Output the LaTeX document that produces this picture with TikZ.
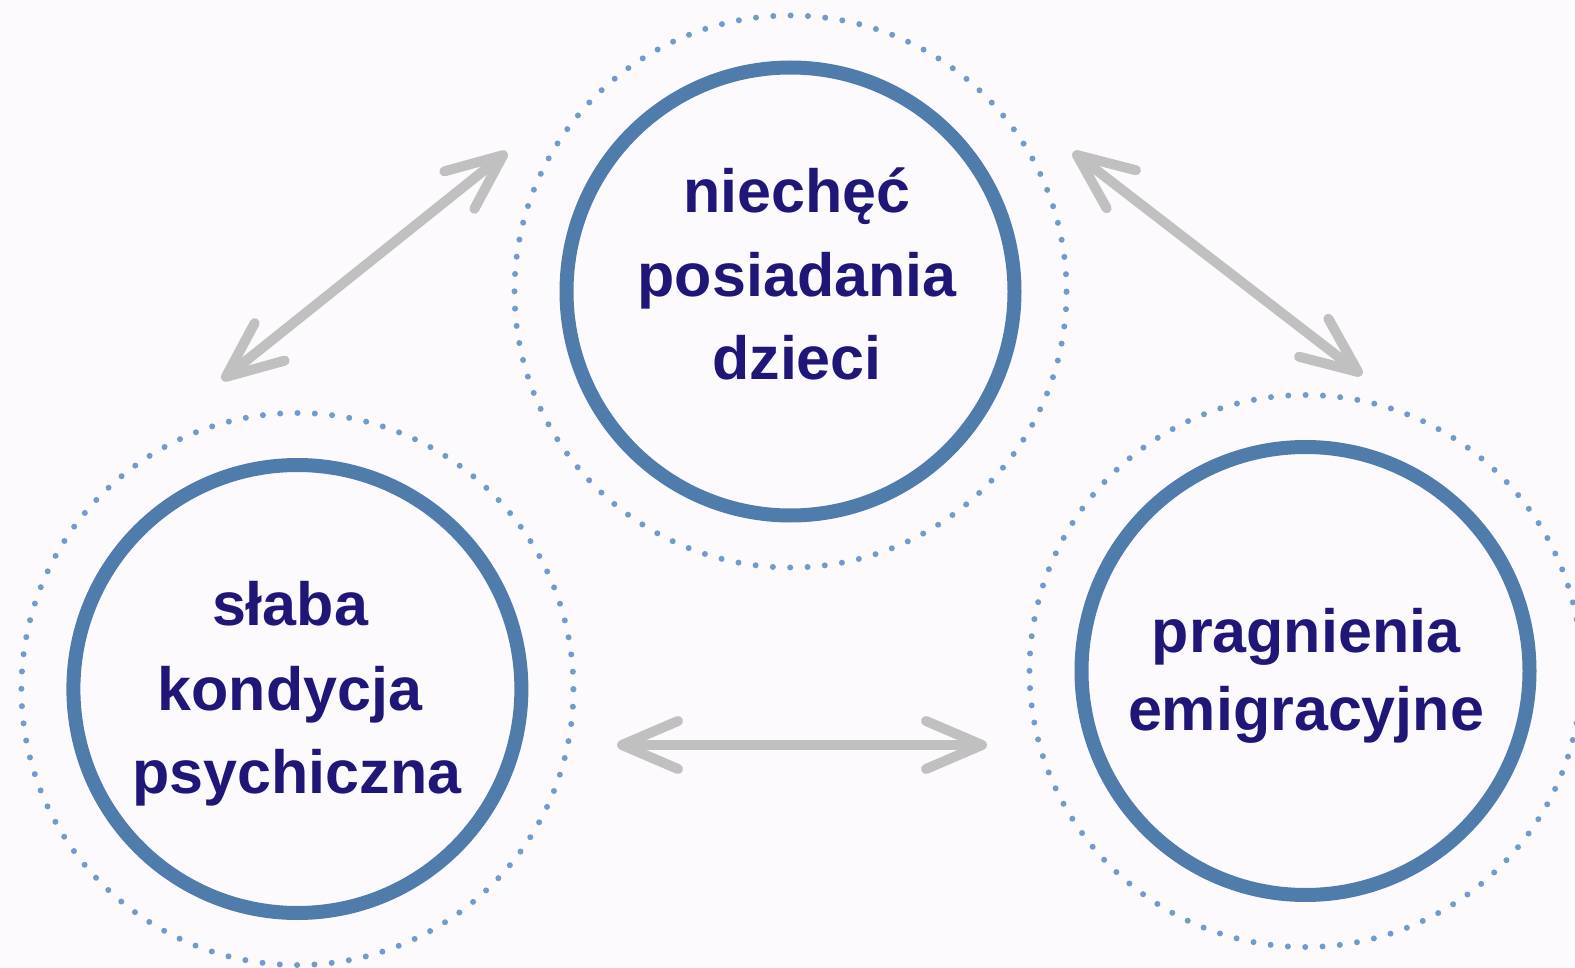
\documentclass[tikz,border=0pt]{standalone}
\usepackage{fontspec}
\setmainfont{Liberation Sans}
\usetikzlibrary{arrows.meta}
\definecolor{bg}{RGB}{252,250,252}
\definecolor{ringblue}{RGB}{80,124,172}
\definecolor{dotblue}{RGB}{112,155,204}
\definecolor{textblue}{RGB}{31,22,120}
\definecolor{arrowgray}{RGB}{192,192,192}
\begin{document}
\begin{tikzpicture}[x=1pt,y=-1pt,
  ring/.style={circle, draw=ringblue, line width=14pt, minimum size=448pt, inner sep=0pt},
  dotring/.style={draw=dotblue, line width=6pt, line cap=round, dash pattern=on 0pt off 17.34pt},
  lbl/.style={anchor=base, text=textblue, font=\fontsize{61}{72}\selectfont\bfseries, inner sep=0pt},
  link/.style={draw=arrowgray, line width=10pt, line cap=round,
    {Straight Barb[length=56pt,width=48pt,round]}-{Straight Barb[length=56pt,width=48pt,round]}}
]
\useasboundingbox (0,0) rectangle (1575,968);
\fill[bg] (0,0) rectangle (1575,968);
\clip (0,0) rectangle (1575,968);

% circles
\node[ring] (top) at (790.5,291.5) {};
\node[ring] (left) at (297.4,689) {};
\node[ring] (right) at (1305.5,671) {};

\draw[dotring] (top.center) circle[radius=276pt];
\draw[dotring] (left.center) circle[radius=276pt];
\draw[dotring] (right.center) circle[radius=276pt];

% labels
\node[lbl] (t1) at (797,213) {niechęć};
\node[lbl] (t2) at (797,297) {posiadania};
\node[lbl] (t3) at (797,380) {dzieci};

\node[lbl] (l1) at (290,625) {słaba};
\node[lbl] (l2) at (290,710) {kondycja};
\node[lbl] (l3) at (297,793) {psychiczna};

\node[lbl] (r1) at (1306,652) {pragnienia};
\node[lbl] (r2) at (1306,730) {emigracyjne};

% arrows
\coordinate (a1s) at (222,380);
\coordinate (a1e) at (507,152);
\coordinate (a2s) at (1073,152);
\coordinate (a2e) at (1362,375);
\coordinate (a3s) at (617,745);
\coordinate (a3e) at (987,745);

\draw[link] (a1s) -- (a1e);
\draw[link] (a2s) -- (a2e);
\draw[link] (a3s) -- (a3e);
\end{tikzpicture}
\end{document}
